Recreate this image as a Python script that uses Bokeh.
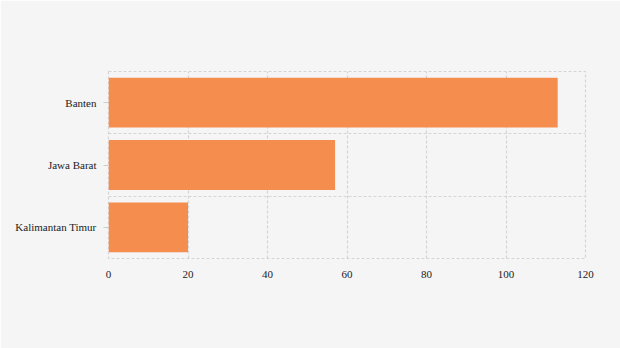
from bokeh.plotting import figure
from bokeh.models import Range1d, FixedTicker, ColumnDataSource
from bokeh.embed import file_html
from bokeh.resources import INLINE

categories = ["Banten", "Jawa Barat", "Kalimantan Timur"]
values = [113, 57, 20]
x_ticks = [0, 20, 40, 60, 80, 100, 120]

n = len(categories)
ypos = [n - i - 0.5 for i in range(n)]
src = ColumnDataSource(dict(y=ypos, v=values, name=categories))

p = figure(width=620, height=348, output_backend="svg", toolbar_location=None,
           x_range=Range1d(0, 120), y_range=Range1d(0, n),
           min_border_left=108, min_border_right=35, min_border_top=71, min_border_bottom=90)
p.background_fill_color = "#f5f5f5"
p.border_fill_color = "#f5f5f5"
p.outline_line_color = "#d4d4d4"
p.outline_line_dash = "3 2"
p.outline_line_width = 1.2

p.hbar(y="y", right="v", left=0, height=0.8, source=src, color="#f58d4f", line_color=None)

for g in (p.xgrid, p.ygrid):
    g.grid_line_color = "#d4d4d4"
    g.grid_line_dash = "3 2"
    g.grid_line_width = 1.2
p.xgrid.ticker = FixedTicker(ticks=x_ticks)
p.ygrid.ticker = FixedTicker(ticks=list(range(n + 1)))

p.xaxis.ticker = FixedTicker(ticks=x_ticks)
p.xaxis.axis_line_color = None
p.xaxis.major_tick_line_color = None
p.xaxis.minor_tick_line_color = None
p.xaxis.major_tick_out = 0
p.xaxis.major_label_standoff = 12

p.yaxis.ticker = FixedTicker(ticks=ypos)
p.yaxis.major_label_overrides = {y: c for y, c in zip(ypos, categories)}
p.yaxis.axis_line_color = None
p.yaxis.major_tick_line_color = "#cccccc"
p.yaxis.minor_tick_line_color = None
p.yaxis.major_tick_out = 5
p.yaxis.major_tick_in = 0
p.yaxis.major_label_standoff = 7

for ax in (p.xaxis, p.yaxis):
    ax.major_label_text_font = "'Liberation Serif', serif"
    ax.major_label_text_font_size = "11px"
    ax.major_label_text_color = "#222222"

open("out.html", "w").write(file_html(p, INLINE))
